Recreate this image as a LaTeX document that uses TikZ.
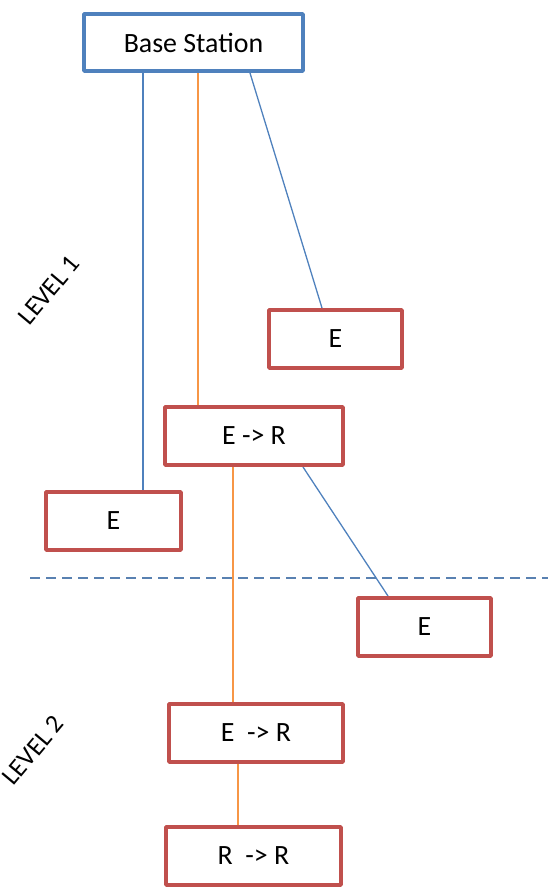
\documentclass[tikz,border=0pt]{standalone}
\usepackage{fontspec}
\setmainfont{Carlito}
\usetikzlibrary{arrows,shapes,backgrounds}

\definecolor{boxblue}{RGB}{79,129,189}
\definecolor{boxred}{RGB}{192,80,77}
\definecolor{lineorange}{RGB}{247,150,70}
\definecolor{lineblue}{RGB}{79,129,189}

\begin{document}
\begin{tikzpicture}[line join=bevel,
  station/.style={draw=boxblue,line width=4bp,fill=white,minimum width=219bp,minimum height=57bp,inner sep=0pt,font=\fontsize{28}{34}\selectfont},
  unit/.style={draw=boxred,line width=4bp,fill=white,minimum height=58bp,inner sep=0pt,font=\fontsize{28}{34}\selectfont},
  blueedge/.style={draw=lineblue,line width=1.3bp},
  orangeedge/.style={draw=lineorange,line width=1.3bp},
  levelsep/.style={draw=lineblue!80!gray,line width=1.3bp,dash pattern=on 10bp off 6bp},
  levelname/.style={font=\fontsize{26}{30}\selectfont,rotate=50}]
\useasboundingbox (0bp,0bp) rectangle (548bp,-895bp);

% Node: BS
\node [station] (bs) at (193.5bp,-42.5bp) {Base Station};

% Nodes: level 1
\node [unit,minimum width=133bp] (eA) at (335.5bp,-339bp) {E};
\node [unit,minimum width=178bp] (erA) at (254bp,-436bp) {E -> R};
\node [unit,minimum width=135bp] (eB) at (113.5bp,-521bp) {E};

% Nodes: level 2
\node [unit,minimum width=133bp] (eC) at (424.5bp,-627bp) {E};
\node [unit,minimum width=174bp] (erB) at (256bp,-733bp) {E\ \ -> R};
\node [unit,minimum width=175bp] (rr) at (253.5bp,-856bp) {R\ \ -> R};

% Level names
\node [levelname] (lvA) at (49bp,-290bp) {LEVEL 1};
\node [levelname] (lvB) at (33bp,-750bp) {LEVEL 2};

\begin{pgfonlayer}{background}
% Separator between the levels
\draw [levelsep] (30bp,-578bp) -- (548bp,-578bp);

% Edge: BS -> E (left)
\draw [blueedge] ([xshift=-50.5bp]bs.south) -- ([xshift=-50.5bp]bs.south |- eB.north);
% Edge: BS -> E -> R
\draw [orangeedge] ([xshift=4.5bp]bs.south) -- ([xshift=4.5bp]bs.south |- erA.north);
% Edge: BS -> E (right)
\draw [blueedge] ([xshift=56.5bp]bs.south) -- ([xshift=-13.5bp]eA.north);
% Edge: E -> R -> E -> R
\draw [orangeedge] ([xshift=-21bp]erA.south) -- ([xshift=-21bp]erA.south |- erB.north);
% Edge: E -> R -> E
\draw [blueedge] ([xshift=49bp]erA.south) -- ([xshift=-36.5bp]eC.north);
% Edge: E -> R -> R -> R
\draw [orangeedge] ([xshift=-18bp]erB.south) -- ([xshift=-18bp]erB.south |- rr.north);
\end{pgfonlayer}

\end{tikzpicture}
\end{document}
